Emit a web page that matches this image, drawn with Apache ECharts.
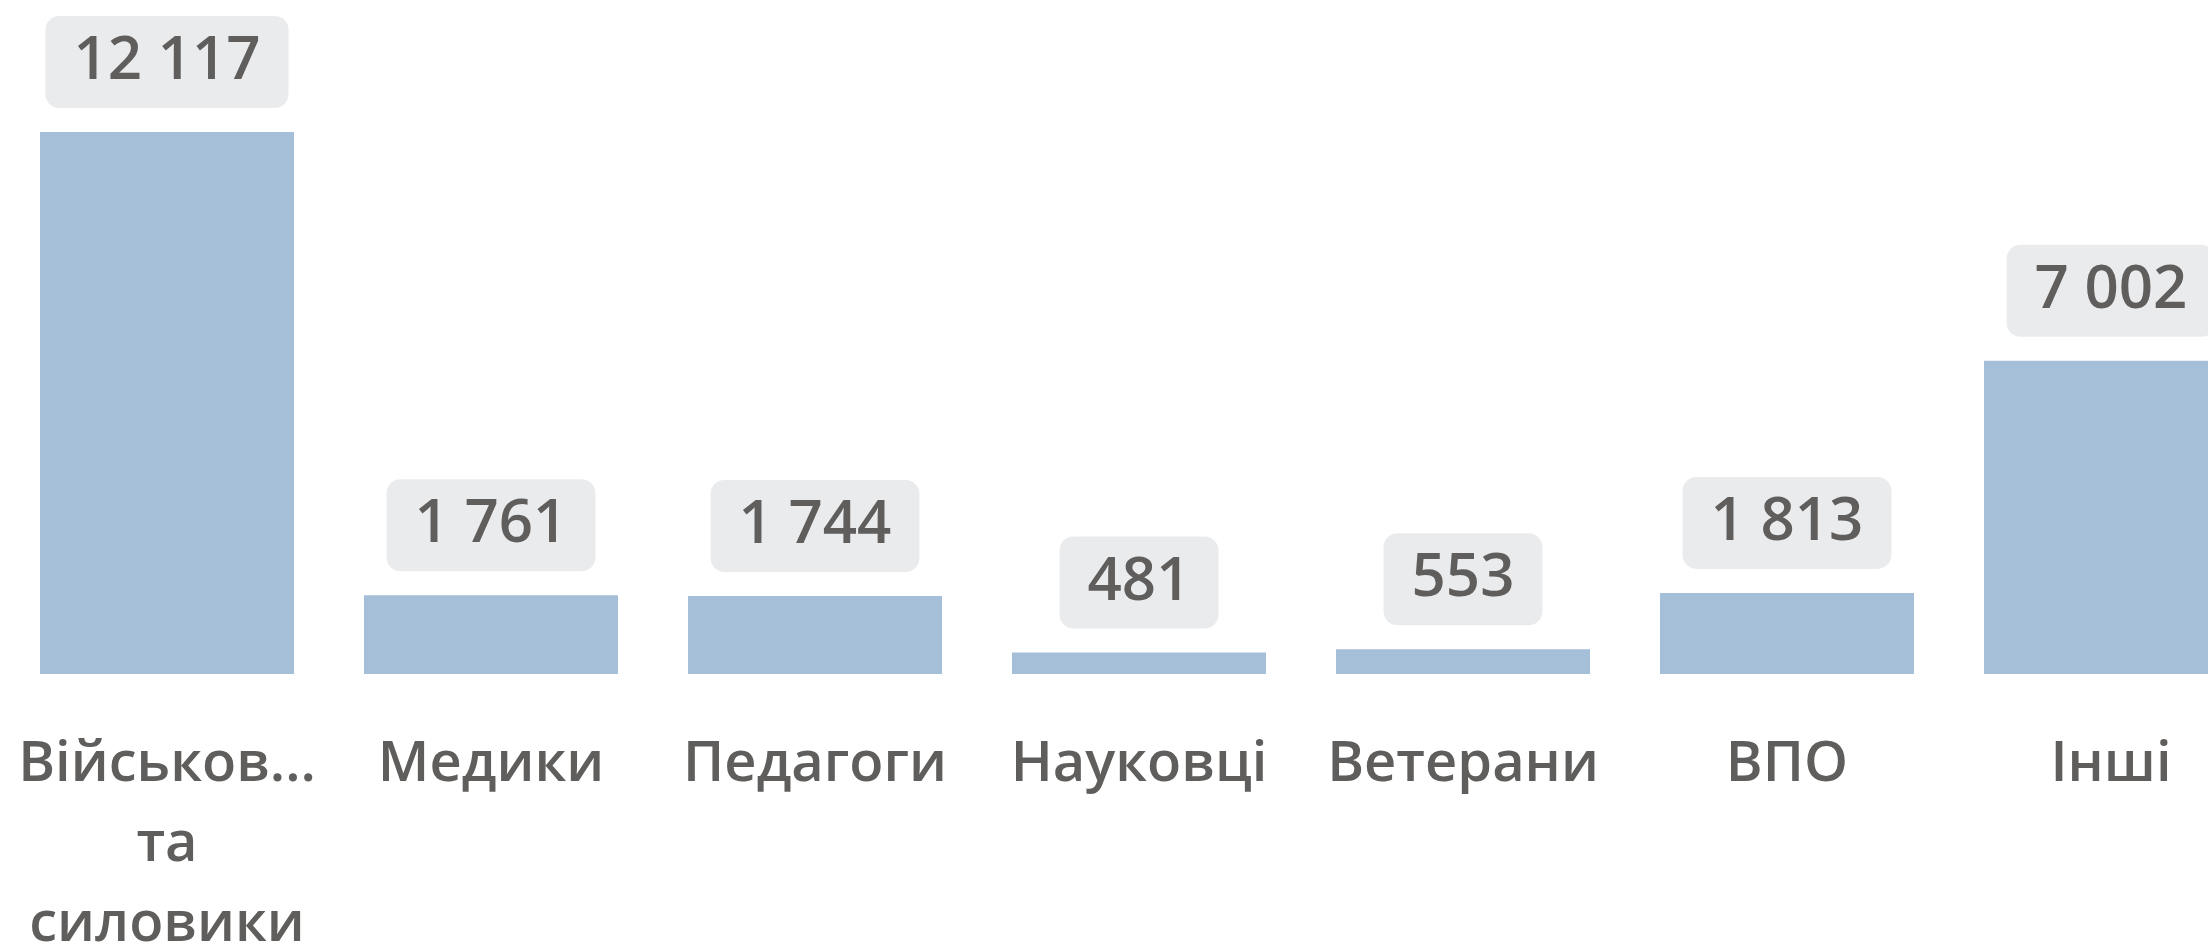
<!DOCTYPE html>
<html>
<head>
<meta charset="utf-8">
<script src="https://cdn.jsdelivr.net/npm/echarts@6/dist/echarts.min.js"></script>
<style>
  html, body { margin: 0; padding: 0; background: #fff; }
  #container { width: 2208px; height: 942px; }
</style>
</head>
<body>
<div id="container"></div>
<script>
var categories = ['Військовослужбовці та силовики', 'Медики', 'Педагоги', 'Науковці', 'Ветерани', 'ВПО', 'Інші'];
var values = [12117, 1761, 1744, 481, 553, 1813, 7002];

var textColor = '#605E5C';

function fmtNum(v) {
    return String(v).replace(/\B(?=(\d{3})+(?!\d))/g, ' ');
}

// кожне слово в окремому рядку, довгі слова обрізаються
function fmtCat(name) {
    return name.split(' ').map(function (w) {
        return w.length > 9 ? w.slice(0, 8) + '...' : w;
    }).join('\n');
}

var dom = document.getElementById('container');
var myChart = echarts.init(dom);
var option = {
    animation: false,
    grid: {
        left: 5,
        width: 2268,
        top: 132,
        bottom: 268,
        containLabel: false,
        outerBoundsMode: 'none'
    },
    xAxis: {
        type: 'category',
        data: categories,
        axisLine: { show: false },
        axisTick: { show: false },
        axisLabel: {
            interval: 0,
            margin: 51,
            color: textColor,
            fontFamily: 'Open Sans',
            fontWeight: 600,
            fontSize: 56,
            lineHeight: 80,
            formatter: fmtCat
        }
    },
    yAxis: {
        type: 'value',
        min: 0,
        max: 12117,
        show: false,
        splitLine: { show: false }
    },
    series: [{
        type: 'bar',
        data: values,
        barCategoryGap: '21.6%',
        itemStyle: { color: '#A6BFD8' },
        label: {
            show: true,
            position: 'top',
            distance: 24,
            formatter: function (p) { return fmtNum(p.value); },
            color: textColor,
            fontFamily: 'Open Sans',
            fontWeight: 600,
            fontSize: 60,
            lineHeight: 64,
            backgroundColor: '#EAEBED',
            padding: [14, 28],
            borderRadius: 14
        }
    }]
};
myChart.setOption(option, true);
</script>
</body>
</html>
